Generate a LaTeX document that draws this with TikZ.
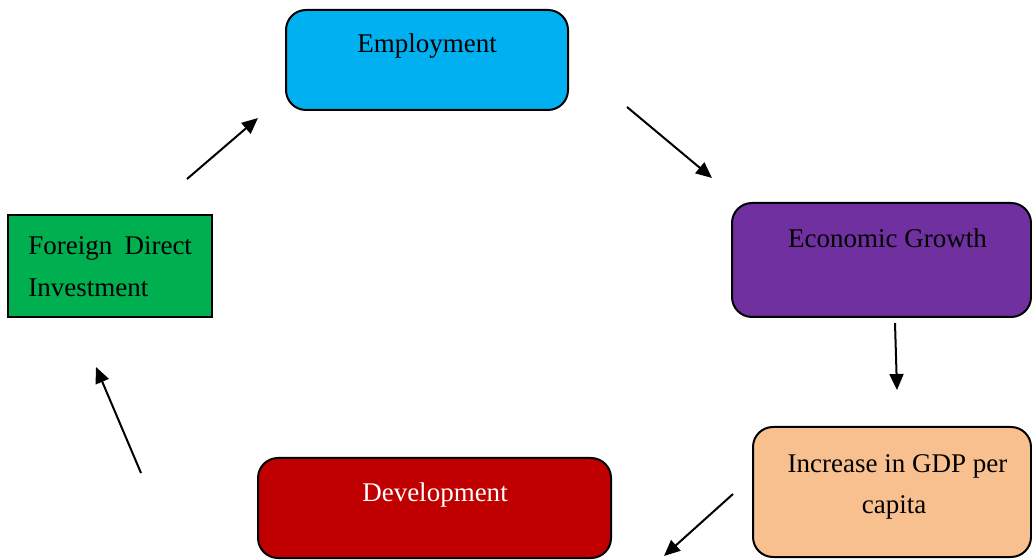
\documentclass[tikz,border=0pt]{standalone}
\usepackage{fontspec}
\setmainfont{Liberation Serif}
\usetikzlibrary{arrows.meta}
\definecolor{cEmp}{HTML}{00B0F0}
\definecolor{cEG}{HTML}{7030A0}
\definecolor{cGDP}{HTML}{F8BF8F}
\definecolor{cDev}{HTML}{C00000}
\definecolor{cFDI}{HTML}{00B050}
\tikzset{
  box/.style={draw=black, line width=1pt, inner sep=0pt, outer sep=0pt, rounded corners=10pt},
  sqbox/.style={draw=black, line width=1pt, inner sep=0pt, outer sep=0pt},
  txt/.style={font=\fontsize{13.5}{16}\selectfont, inner sep=0pt, anchor=base},
  arr/.style={line width=1pt, -{Triangle[length=8pt,width=7pt]}}
}
\begin{document}
\begin{tikzpicture}[x=0.5pt,y=-0.5pt]
\useasboundingbox (0,0) rectangle (1032,560);
% boxes
\node[box, fill=cEmp, minimum width=141pt, minimum height=50pt] (emp) at (427,60) {};
\node[box, fill=cEG, minimum width=149.5pt, minimum height=57pt] (eg) at (881.5,260) {};
\node[box, fill=cGDP, minimum width=139pt, minimum height=65pt] (gdp) at (892,492) {};
\node[box, fill=cDev, minimum width=176.5pt, minimum height=50pt] (dev) at (434.5,508) {};
\node[sqbox, fill=cFDI, minimum width=102pt, minimum height=51pt] (fdi) at (110,266) {};
% texts
\node[txt] (empT) at (427,53) {Employment};
\node[txt] (egT) at (887.5,248) {Economic Growth};
\node[txt] (gdpT1) at (897.5,473) {Increase in GDP per};
\node[txt] (gdpT2) at (894,513) {capita};
\node[txt, text=white] (devT) at (435,502) {Development};
\node[txt, anchor=base west] (fdiT1) at (28,255) {Foreign\hspace{0.45em}Direct};
\node[txt, anchor=base west] (fdiT2) at (28,297) {Investment};
% arrow end points
\coordinate (a1s) at (187,179); \coordinate (a1e) at (258,118);
\coordinate (a2s) at (627,107); \coordinate (a2e) at (712,178);
\coordinate (a3s) at (895,323); \coordinate (a3e) at (897,390);
\coordinate (a4s) at (733,494); \coordinate (a4e) at (664,556);
\coordinate (a5s) at (141,473); \coordinate (a5e) at (96,367);
\draw[arr] (a1s) -- (a1e);
\draw[arr] (a2s) -- (a2e);
\draw[arr] (a3s) -- (a3e);
\draw[arr] (a4s) -- (a4e);
\draw[arr] (a5s) -- (a5e);
\end{tikzpicture}
\end{document}
